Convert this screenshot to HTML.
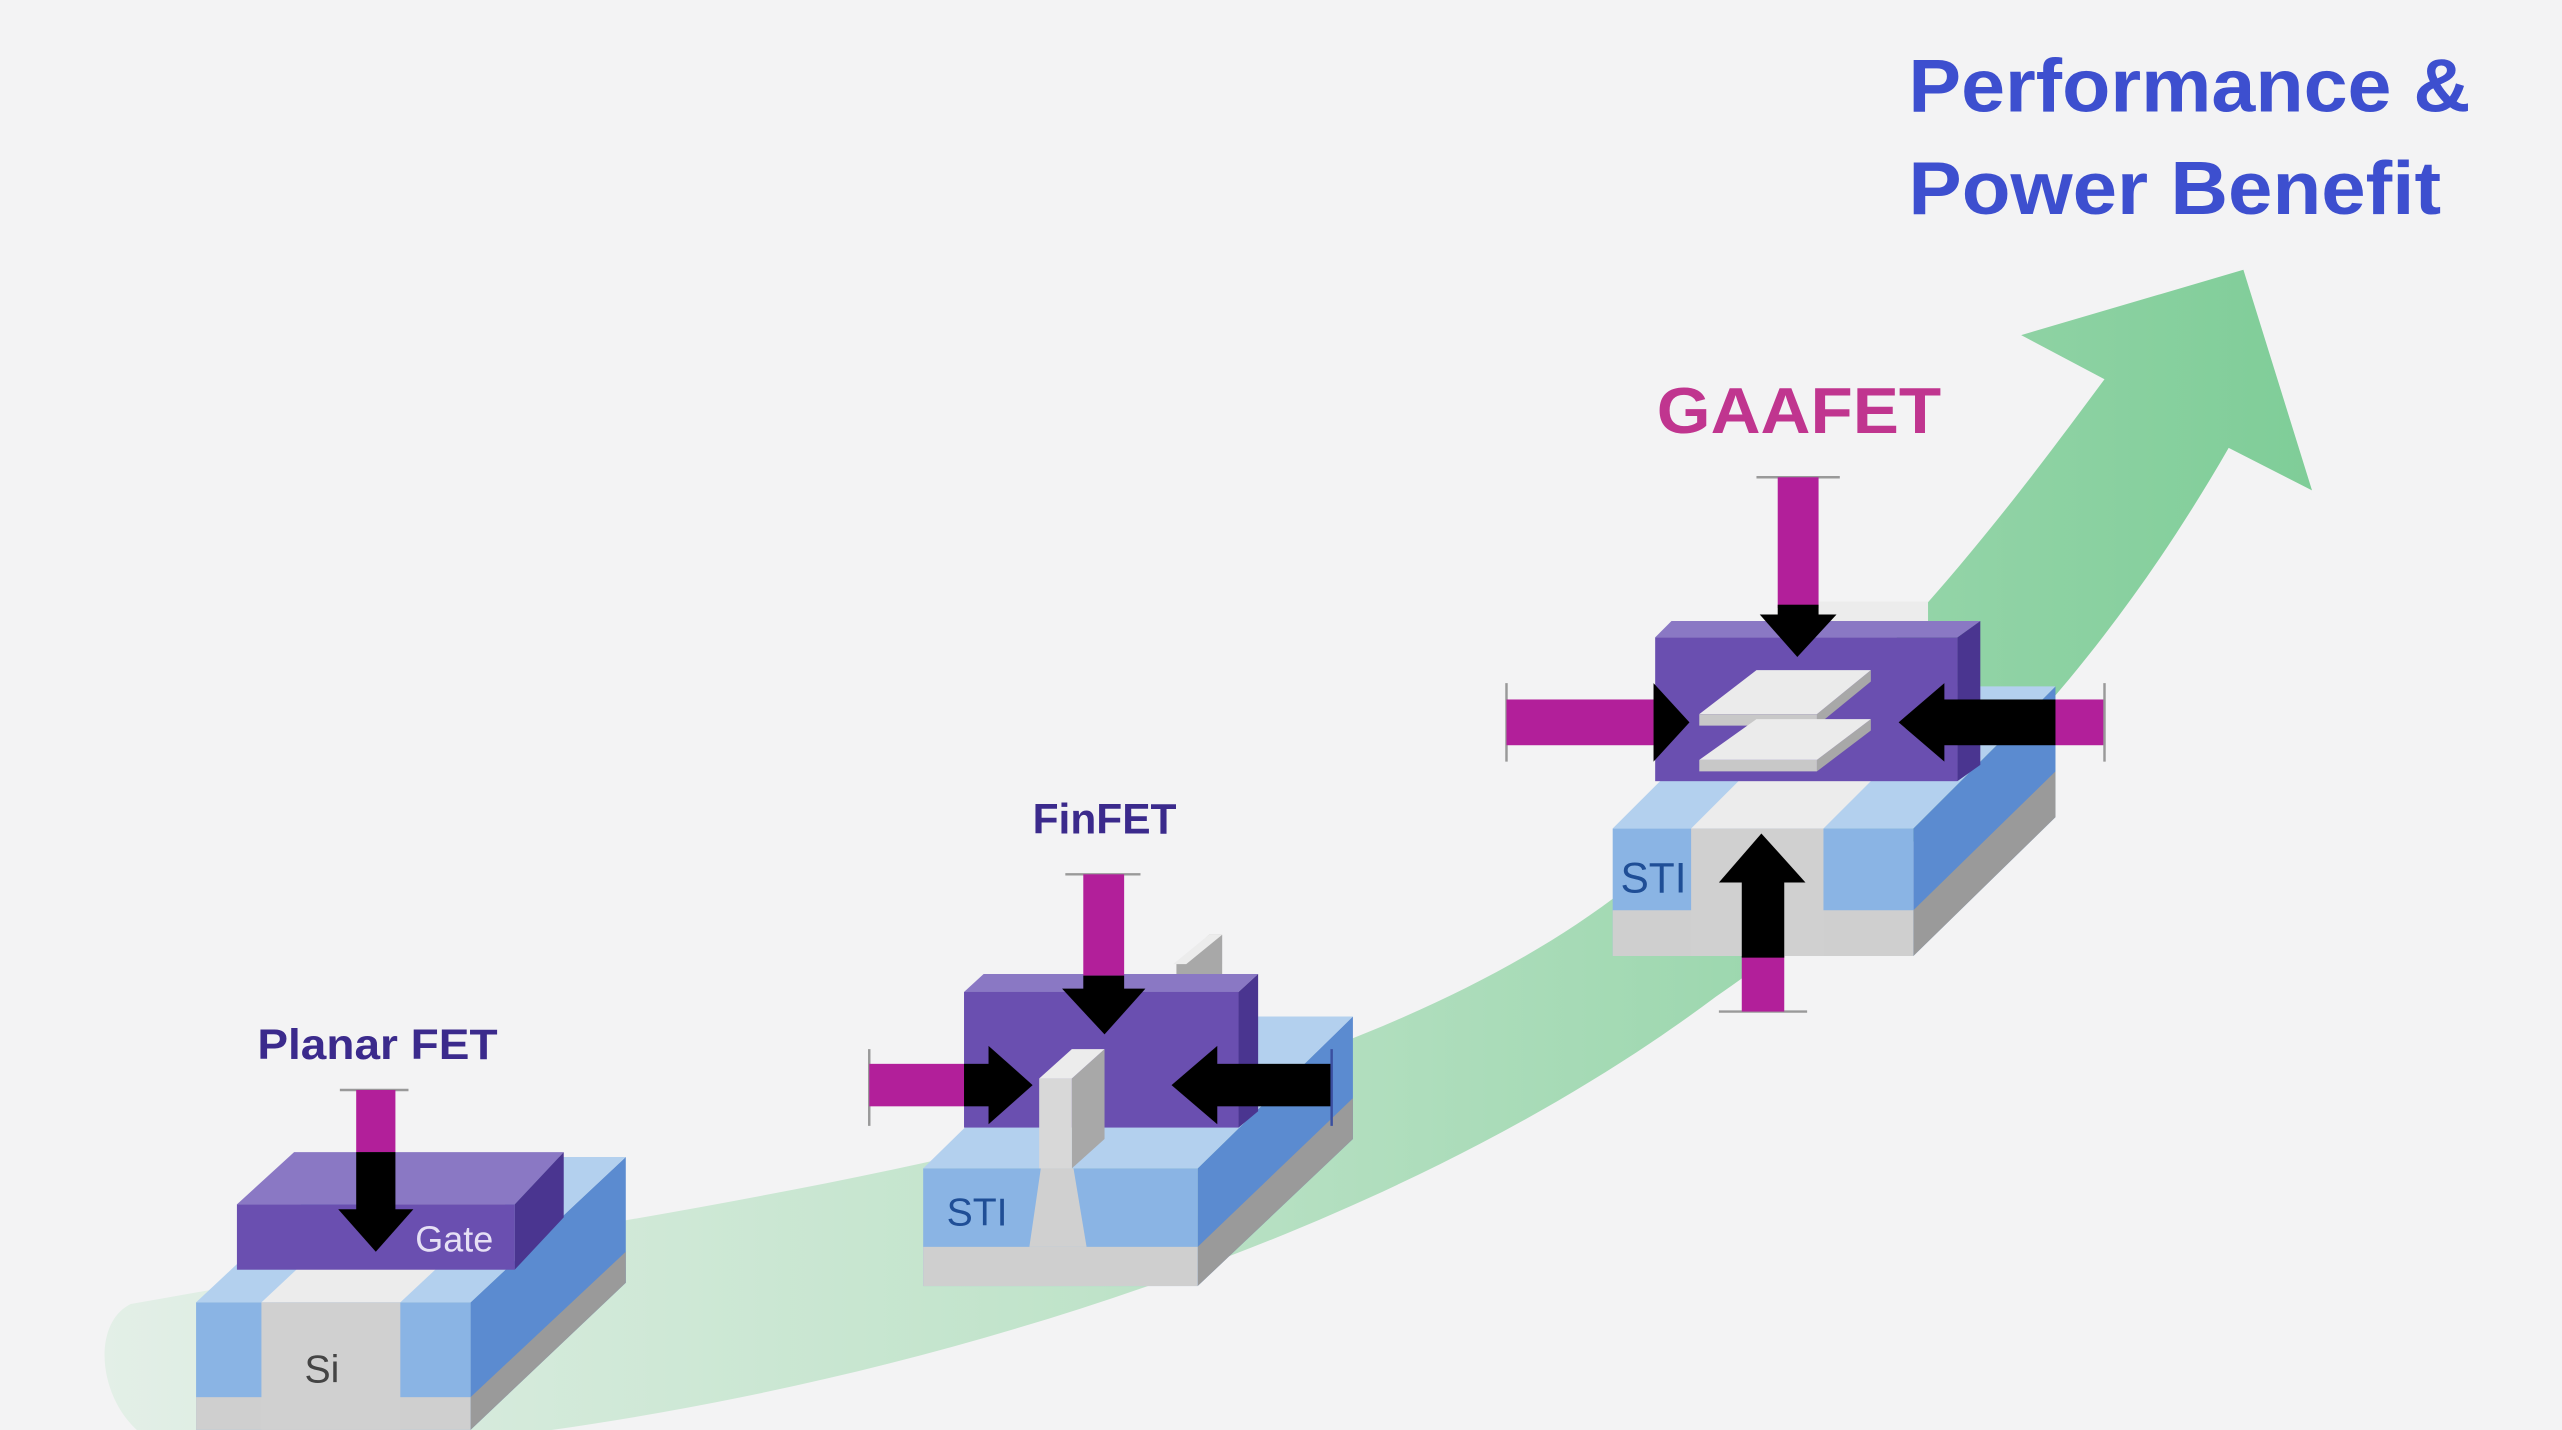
<!DOCTYPE html>
<html><head><meta charset="utf-8"><style>
html,body{margin:0;padding:0;background:#f3f3f4;}
svg{display:block;}
text{font-family:"Liberation Sans",sans-serif;font-weight:bold;}
</style></head><body>
<svg width="2562" height="1430" viewBox="0 0 1568 875" xmlns="http://www.w3.org/2000/svg">
<defs>
<linearGradient id="g" x1="0" y1="0" x2="1" y2="0">
<stop offset="0" stop-color="#e3efe7"/>
<stop offset="0.45" stop-color="#bfe3c9"/>
<stop offset="1" stop-color="#7fcd98"/>
</linearGradient>
</defs>
<rect width="1568" height="875" fill="#f3f3f4"/>
<path d="M80,798 C400,740 800,700 1000,540 C1150,420 1230,310 1288,232 L1237,205 L1373,165 L1415,300 L1364,274 C1280,420 1180,520 1050,610 C850,760 550,850 300,880 L90,880 C60,860 55,810 80,798 Z" fill="url(#g)"/>

<text x="1168" y="68" font-size="46" fill="#3d4fcf" textLength="344" lengthAdjust="spacingAndGlyphs">Performance &amp;</text>
<text x="1168" y="131" font-size="46" fill="#3d4fcf" textLength="326" lengthAdjust="spacingAndGlyphs">Power Benefit</text>

<text x="231" y="648" font-size="26" fill="#3b2a8c" text-anchor="middle" textLength="147" lengthAdjust="spacingAndGlyphs">Planar FET</text>
<polygon points="288,797 383,708 383,785 288,875" fill="#5b8bd0"/>
<polygon points="288,855 383,766 383,785 288,875" fill="#9a9a9a"/>
<polygon points="120,797 288,797 383,708 215,708" fill="#b3d0ee"/>
<polygon points="160,797 245,797 340,708 255,708" fill="#ececec"/>
<rect x="120" y="797" width="168" height="78" fill="#8ab4e4"/>
<rect x="120" y="855" width="168" height="20" fill="#cfcfcf"/>
<rect x="160" y="797" width="85" height="78" fill="#d0d0d0"/>
<text x="197" y="846" font-size="24" fill="#444" text-anchor="middle" style="font-weight:normal">Si</text>
<polygon points="145,737 180,705 345,705 315,737" fill="#8a78c4"/>
<polygon points="315,737 345,705 345,745 315,777" fill="#4a3590"/>
<rect x="145" y="737" width="170" height="40" fill="#6a4fb0"/>
<text x="278" y="766" font-size="22" fill="#e6e0f5" text-anchor="middle" style="font-weight:normal">Gate</text>
<line x1="208" y1="667" x2="250" y2="667" stroke="#999" stroke-width="1.5"/>
<rect x="218" y="667" width="24" height="38" fill="#b21f9a"/>
<rect x="218" y="705" width="24" height="36" fill="#000"/>
<polygon points="207,740 253,740 230,766" fill="#000"/>

<text x="676" y="510" font-size="26" fill="#3b2a8c" text-anchor="middle">FinFET</text>
<polygon points="720,590 740,572 748,572 748,620 720,620" fill="#a8a8a8"/>
<polygon points="718,590 740,572 748,572 726,590" fill="#ececec"/>
<polygon points="733,715 828,622 828,697 733,787" fill="#5b8bd0"/>
<polygon points="733,763 828,672 828,697 733,787" fill="#9a9a9a"/>
<polygon points="565,715 733,715 828,622 660,622" fill="#b3d0ee"/>
<rect x="565" y="715" width="168" height="72" fill="#8ab4e4"/>
<rect x="565" y="763" width="168" height="24" fill="#cfcfcf"/>
<polygon points="637,715 657,715 665,763 630,763" fill="#d0d0d0"/>
<polygon points="590,607 602,596 770,596 758,607" fill="#8a78c4"/>
<polygon points="758,607 770,596 770,680 758,690" fill="#4a3590"/>
<rect x="590" y="607" width="168" height="83" fill="#6a4fb0"/>
<polygon points="656,660 676,642 676,697 656,715" fill="#a8a8a8"/>
<polygon points="636,660 656,660 676,642 656,642" fill="#ececec"/>
<rect x="636" y="660" width="20" height="55" fill="#d8d8d8"/>
<text x="598" y="750" font-size="24" fill="#1f4e96" text-anchor="middle" style="font-weight:normal">STI</text>
<line x1="652" y1="535" x2="698" y2="535" stroke="#999" stroke-width="1.5"/>
<rect x="663" y="535" width="25" height="62" fill="#b21f9a"/>
<rect x="663" y="597" width="25" height="10" fill="#000"/>
<polygon points="650,605 701,605 676,633" fill="#000"/>
<line x1="532" y1="642" x2="532" y2="689" stroke="#999" stroke-width="1.5"/>
<rect x="532" y="651" width="58" height="26" fill="#b21f9a"/>
<rect x="590" y="651" width="16" height="26" fill="#000"/>
<polygon points="605,640 605,688 632,664" fill="#000"/>
<rect x="744" y="651" width="71" height="26" fill="#000"/>
<polygon points="745,640 745,688 717,664" fill="#000"/>
<line x1="815" y1="642" x2="815" y2="689" stroke="#3a4fa0" stroke-width="1.5"/>

<text x="1101" y="265" font-size="40" fill="#c0358f" text-anchor="middle" textLength="174" lengthAdjust="spacingAndGlyphs">GAAFET</text>
<polygon points="1100,380 1110,368 1180,368 1180,380" fill="#ececec"/>
<polygon points="1171,507 1258,420 1258,500 1171,585" fill="#5b8bd0"/>
<polygon points="1171,557 1258,472 1258,500 1171,585" fill="#9a9a9a"/>
<polygon points="987,507 1171,507 1258,420 1074,420" fill="#b3d0ee"/>
<polygon points="1035,507 1116,507 1203,420 1122,420" fill="#ececec"/>
<rect x="987" y="507" width="184" height="78" fill="#8ab4e4"/>
<rect x="987" y="557" width="184" height="28" fill="#cfcfcf"/>
<rect x="1035" y="507" width="81" height="78" fill="#d0d0d0"/>
<text x="1012" y="546" font-size="26" fill="#1f4e96" text-anchor="middle" style="font-weight:normal">STI</text>
<polygon points="1013,390 1023,380 1212,380 1198,390" fill="#8a78c4"/>
<polygon points="1198,390 1212,380 1212,468 1198,478" fill="#4a3590"/>
<rect x="1013" y="390" width="185" height="88" fill="#6a4fb0"/>
<polygon points="1112,437 1145,410 1145,417 1112,444" fill="#a8a8a8"/>
<polygon points="1040,437 1075,410 1145,410 1112,437" fill="#ebebeb"/>
<rect x="1040" y="437" width="72" height="7" fill="#c8c8c8"/>
<polygon points="1112,465 1145,440 1145,447 1112,472" fill="#a8a8a8"/>
<polygon points="1040,465 1075,440 1145,440 1112,465" fill="#ebebeb"/>
<rect x="1040" y="465" width="72" height="7" fill="#c8c8c8"/>
<line x1="1075" y1="292" x2="1126" y2="292" stroke="#999" stroke-width="1.5"/>
<rect x="1088" y="292" width="25" height="80" fill="#b21f9a"/>
<rect x="1088" y="370" width="25" height="8" fill="#000"/>
<polygon points="1077,376 1124,376 1100,402" fill="#000"/>
<line x1="922" y1="418" x2="922" y2="466" stroke="#999" stroke-width="1.5"/>
<rect x="922" y="428" width="90" height="28" fill="#b21f9a"/>
<polygon points="1012,418 1012,466 1034,442" fill="#000"/>
<rect x="1188" y="428" width="70" height="28" fill="#000"/>
<rect x="1258" y="428" width="30" height="28" fill="#b21f9a"/>
<polygon points="1190,418 1190,466 1162,442" fill="#000"/>
<line x1="1288" y1="418" x2="1288" y2="466" stroke="#999" stroke-width="1.5"/>
<line x1="1052" y1="619" x2="1106" y2="619" stroke="#999" stroke-width="1.5"/>
<rect x="1066" y="585" width="26" height="34" fill="#b21f9a"/>
<rect x="1066" y="538" width="26" height="48" fill="#000"/>
<polygon points="1052,540 1105,540 1078,510" fill="#000"/>
</svg>
</body></html>
